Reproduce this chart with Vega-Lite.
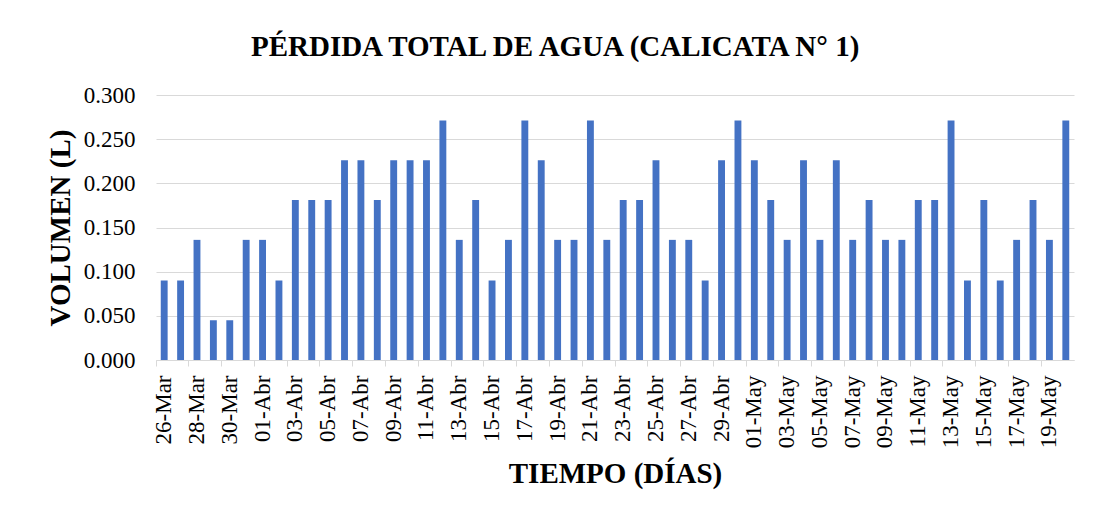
{
  "$schema": "https://vega.github.io/schema/vega-lite/v6.json",
  "autosize": {"type": "none"},
  "width": 918,
  "height": 265,
  "padding": {"left": 156, "top": 95, "right": 29, "bottom": 162},
  "background": "white",
  "title": {
    "text": "PÉRDIDA TOTAL DE AGUA (CALICATA N° 1)",
    "font": "Liberation Serif",
    "fontSize": 29,
    "fontWeight": "bold",
    "color": "#000000",
    "anchor": "middle",
    "frame": "bounds",
    "baseline": "alphabetic",
    "offset": -1,
    "dx": -5
  },
  "data": {
    "values": [
      {"fecha": "26-Mar", "volumen": 0.090},
      {"fecha": "27-Mar", "volumen": 0.090},
      {"fecha": "28-Mar", "volumen": 0.136},
      {"fecha": "29-Mar", "volumen": 0.045},
      {"fecha": "30-Mar", "volumen": 0.045},
      {"fecha": "31-Mar", "volumen": 0.136},
      {"fecha": "01-Abr", "volumen": 0.136},
      {"fecha": "02-Abr", "volumen": 0.090},
      {"fecha": "03-Abr", "volumen": 0.181},
      {"fecha": "04-Abr", "volumen": 0.181},
      {"fecha": "05-Abr", "volumen": 0.181},
      {"fecha": "06-Abr", "volumen": 0.226},
      {"fecha": "07-Abr", "volumen": 0.226},
      {"fecha": "08-Abr", "volumen": 0.181},
      {"fecha": "09-Abr", "volumen": 0.226},
      {"fecha": "10-Abr", "volumen": 0.226},
      {"fecha": "11-Abr", "volumen": 0.226},
      {"fecha": "12-Abr", "volumen": 0.271},
      {"fecha": "13-Abr", "volumen": 0.136},
      {"fecha": "14-Abr", "volumen": 0.181},
      {"fecha": "15-Abr", "volumen": 0.090},
      {"fecha": "16-Abr", "volumen": 0.136},
      {"fecha": "17-Abr", "volumen": 0.271},
      {"fecha": "18-Abr", "volumen": 0.226},
      {"fecha": "19-Abr", "volumen": 0.136},
      {"fecha": "20-Abr", "volumen": 0.136},
      {"fecha": "21-Abr", "volumen": 0.271},
      {"fecha": "22-Abr", "volumen": 0.136},
      {"fecha": "23-Abr", "volumen": 0.181},
      {"fecha": "24-Abr", "volumen": 0.181},
      {"fecha": "25-Abr", "volumen": 0.226},
      {"fecha": "26-Abr", "volumen": 0.136},
      {"fecha": "27-Abr", "volumen": 0.136},
      {"fecha": "28-Abr", "volumen": 0.090},
      {"fecha": "29-Abr", "volumen": 0.226},
      {"fecha": "30-Abr", "volumen": 0.271},
      {"fecha": "01-May", "volumen": 0.226},
      {"fecha": "02-May", "volumen": 0.181},
      {"fecha": "03-May", "volumen": 0.136},
      {"fecha": "04-May", "volumen": 0.226},
      {"fecha": "05-May", "volumen": 0.136},
      {"fecha": "06-May", "volumen": 0.226},
      {"fecha": "07-May", "volumen": 0.136},
      {"fecha": "08-May", "volumen": 0.181},
      {"fecha": "09-May", "volumen": 0.136},
      {"fecha": "10-May", "volumen": 0.136},
      {"fecha": "11-May", "volumen": 0.181},
      {"fecha": "12-May", "volumen": 0.181},
      {"fecha": "13-May", "volumen": 0.271},
      {"fecha": "14-May", "volumen": 0.090},
      {"fecha": "15-May", "volumen": 0.181},
      {"fecha": "16-May", "volumen": 0.090},
      {"fecha": "17-May", "volumen": 0.136},
      {"fecha": "18-May", "volumen": 0.181},
      {"fecha": "19-May", "volumen": 0.136},
      {"fecha": "20-May", "volumen": 0.271}
    ]
  },
  "mark": {"type": "bar", "color": "#4472C4"},
  "encoding": {
    "x": {
      "field": "fecha",
      "type": "ordinal",
      "sort": null,
      "scale": {"paddingInner": 0.58, "paddingOuter": 0.29},
      "axis": {
        "title": "TIEMPO (DÍAS)",
        "values": ["26-Mar", "28-Mar", "30-Mar", "01-Abr", "03-Abr", "05-Abr", "07-Abr", "09-Abr", "11-Abr", "13-Abr", "15-Abr", "17-Abr", "19-Abr", "21-Abr", "23-Abr", "25-Abr", "27-Abr", "29-Abr", "01-May", "03-May", "05-May", "07-May", "09-May", "11-May", "13-May", "15-May", "17-May", "19-May"],
        "labelAngle": -90,
        "labelAlign": "right",
        "labelBaseline": "middle",
        "labelFont": "Liberation Serif",
        "labelFontSize": 23,
        "labelColor": "#000000",
        "labelPadding": 9,
        "labelOverlap": false,
        "bandPosition": -0.69,
        "ticks": true,
        "tickSize": 6,
        "tickColor": "#d9d9d9",
        "tickWidth": 1,
        "domainColor": "#d9d9d9",
        "domainWidth": 1,
        "grid": false,
        "titleFont": "Liberation Serif",
        "titleFontSize": 29,
        "titleFontWeight": "bold",
        "titleColor": "#000000",
        "titlePadding": 12
      }
    },
    "y": {
      "field": "volumen",
      "type": "quantitative",
      "scale": {"domain": [0, 0.3], "nice": false},
      "axis": {
        "title": "VOLUMEN (L)",
        "values": [0, 0.05, 0.1, 0.15, 0.2, 0.25, 0.3],
        "format": ".3f",
        "labelFont": "Liberation Serif",
        "labelFontSize": 23,
        "labelColor": "#000000",
        "labelPadding": 21,
        "ticks": false,
        "domain": false,
        "grid": true,
        "gridColor": "#d9d9d9",
        "gridWidth": 1,
        "titleFont": "Liberation Serif",
        "titleFontSize": 29,
        "titleFontWeight": "bold",
        "titleColor": "#000000",
        "titlePadding": 8
      }
    }
  },
  "config": {"view": {"stroke": null}}
}
